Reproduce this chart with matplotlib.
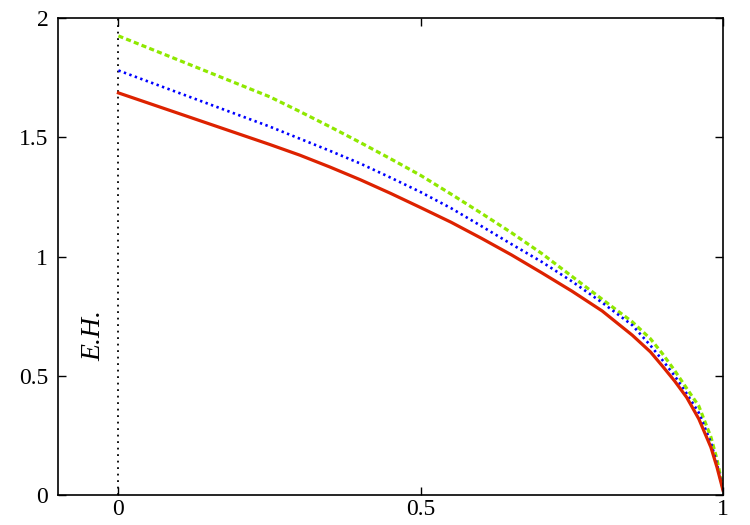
import matplotlib
matplotlib.use("Agg")
import matplotlib.pyplot as plt

x = [0.0, 0.25, 0.3, 0.35, 0.4, 0.45, 0.5, 0.55, 0.6, 0.65, 0.7, 0.75, 0.8,
     0.85, 0.88, 0.9, 0.92, 0.94, 0.96, 0.98, 0.99, 1.0]
red = [1.686, 1.470, 1.425, 1.375, 1.322, 1.265, 1.205, 1.144, 1.077, 1.007, 0.932,
       0.855, 0.772, 0.670, 0.600, 0.540, 0.478, 0.409, 0.319, 0.200, 0.117, 0.02]
blue = [1.780, 1.545, 1.494, 1.443, 1.390, 1.331, 1.270, 1.203, 1.128, 1.052, 0.978,
        0.896, 0.807, 0.712, 0.627, 0.565, 0.500, 0.425, 0.345, 0.220, 0.130, 0.02]
green = [1.925, 1.670, 1.608, 1.544, 1.478, 1.410, 1.340, 1.262, 1.182, 1.100, 1.013,
         0.917, 0.821, 0.726, 0.655, 0.592, 0.522, 0.447, 0.373, 0.243, 0.150, 0.025]
xticks = [0, 0.5, 1]
xticklabels = ["0", "0.5", "1"]
yticks = [0, 0.5, 1, 1.5, 2]
yticklabels = ["0", "0.5", "1", "1.5", "2"]
eh_x = [0, 0]
eh_y = [0, 2]

plt.rcParams['font.family'] = ['Liberation Serif', 'DejaVu Serif']

fig = plt.figure(figsize=(7.5, 5.25), dpi=100)
ax = fig.add_axes([0.0773, 0.0571, 0.8867, 0.9086])

ax.plot(eh_x, eh_y, color='black', linestyle=(0, (1, 2.6)), linewidth=1.3)
ax.plot(x, green, color='#8fe800', linestyle=(0, (1.6, 1.0)), linewidth=2.3)
ax.plot(x, blue, color='#0000ff', linestyle=(0, (0.9, 1.3)), linewidth=1.9)
ax.plot(x, red, color='#dd2200', linestyle='-', linewidth=2.3)

ax.text(-0.04, 0.67, 'E.H.', rotation=90, fontsize=20, style='italic',
        ha='center', va='center')

ax.set_xlim(-0.1, 1.0)
ax.set_ylim(0, 2)
ax.set_xticks(xticks)
ax.set_xticklabels(xticklabels)
ax.set_yticks(yticks)
ax.set_yticklabels(yticklabels)
ax.tick_params(direction='in', top=True, right=True, labelsize=17, length=6, width=1)
ax.tick_params(axis='y', pad=7)
ax.tick_params(axis='x', pad=3)
for s in ax.spines.values():
    s.set_linewidth(1.2)

fig.savefig('out.png', dpi=100)
